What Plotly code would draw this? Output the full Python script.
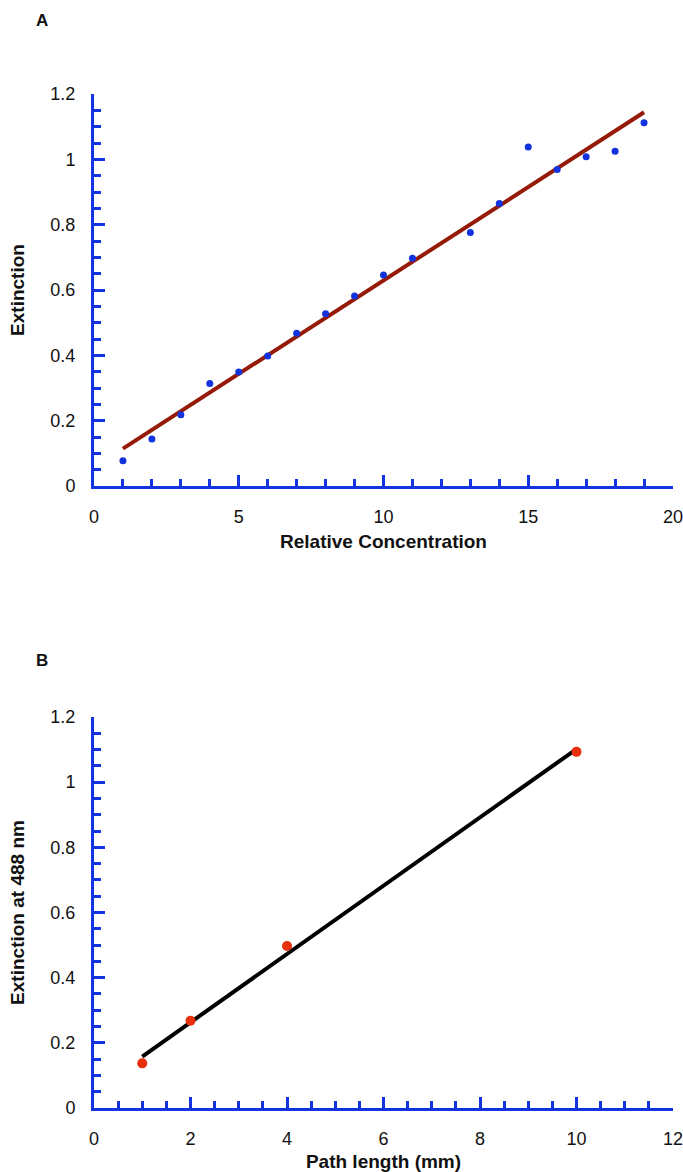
import numpy as np
import plotly.graph_objects as go

# Panel A data
conc = [1, 2, 3, 4, 5, 6, 7, 8, 9, 10, 11, 13, 14, 15, 16, 17, 18, 19]
ext_a = [0.077, 0.144, 0.218, 0.314, 0.349, 0.398, 0.468, 0.527, 0.582, 0.646,
         0.697, 0.776, 0.865, 1.038, 0.969, 1.008, 1.025, 1.112]

# Panel B data
path_mm = [1, 2, 4, 10]
ext_b = [0.137, 0.268, 0.497, 1.093]

xa_title = "Relative Concentration"
ya_title = "Extinction"
xb_title = "Path length (mm)"
yb_title = "Extinction at 488 nm"

# linear fits
pa = np.polyfit(conc, ext_a, 1)
fa_x = [min(conc), max(conc)]
fa_y = list(np.polyval(pa, fa_x))
pb = np.polyfit(path_mm, ext_b, 1)
fb_x = [min(path_mm), max(path_mm)]
fb_y = list(np.polyval(pb, fb_x))

AX = "#1433e0"
FONT = "Liberation Sans, Arial, Helvetica, sans-serif"

fig = go.Figure()
fig.add_trace(go.Scatter(x=fa_x, y=fa_y, mode="lines",
                         line=dict(color="#951a08", width=4), xaxis="x", yaxis="y", showlegend=False))
fig.add_trace(go.Scatter(x=conc, y=ext_a, mode="markers",
                         marker=dict(color="#1133dd", size=7), xaxis="x", yaxis="y", showlegend=False))
fig.add_trace(go.Scatter(x=fb_x, y=fb_y, mode="lines",
                         line=dict(color="#000000", width=4), xaxis="x2", yaxis="y2", showlegend=False))
fig.add_trace(go.Scatter(x=path_mm, y=ext_b, mode="markers",
                         marker=dict(color="#e8300c", size=10), xaxis="x2", yaxis="y2", showlegend=False))

def xaxis(rng, dtick, mdtick, title, anchor):
    return dict(range=rng, dtick=dtick, tick0=0, showgrid=False, zeroline=False,
                showline=True, linecolor=AX, linewidth=3,
                ticks="inside", ticklen=11, tickwidth=3, tickcolor=AX,
                minor=dict(dtick=mdtick, tick0=0, ticks="inside", ticklen=7, tickwidth=2.5, tickcolor=AX, showgrid=False),
                tickfont=dict(size=18, color="#111111", family=FONT),
                ticklabelstandoff=12, ticklabeloverflow="allow",
                title=dict(text=title, font=dict(size=19, color="#111111", family=FONT, weight="bold"), standoff=10),
                anchor=anchor, domain=[0, 1])

def yaxis(rng, domain, title, anchor):
    return dict(range=rng, dtick=0.2, tick0=0, showgrid=False, zeroline=False,
                showline=True, linecolor=AX, linewidth=3,
                ticks="inside", ticklen=11, tickwidth=3, tickcolor=AX,
                minor=dict(dtick=0.05, tick0=0, ticks="inside", ticklen=7, tickwidth=2.5, tickcolor=AX, showgrid=False),
                tickfont=dict(size=18, color="#111111", family=FONT),
                ticklabelstandoff=12, tickformat="~g", ticklabeloverflow="allow",
                title=dict(text=title, font=dict(size=19, color="#111111", family=FONT, weight="bold"), standoff=21),
                anchor=anchor, domain=domain)

FW, FH = 683, 1172
ML, MR, MT, MB = 94, 10, 94, 64
W = FW - ML - MR
H = FH - MT - MB

fig.update_layout(
    width=FW, height=FH,
    margin=dict(l=ML, r=MR, t=MT, b=MB, autoexpand=False),
    paper_bgcolor="white", plot_bgcolor="white",
    xaxis=xaxis([0, 20], 5, 1, xa_title, "y"),
    yaxis=yaxis([0, 1.2], [0.6134, 1.0], ya_title, "x"),
    xaxis2=xaxis([0, 12], 2, 0.5, xb_title, "y2"),
    yaxis2=yaxis([0, 1.2], [0.0, 0.3856], yb_title, "x2"),
    font=dict(family=FONT),
    annotations=[
        dict(text="<b>A</b>", x=(42 - ML) / W, y=(FH - MB - 20) / H, xref="paper", yref="paper",
             xanchor="center", yanchor="middle", showarrow=False,
             font=dict(size=17, color="#111111", family=FONT)),
        dict(text="<b>B</b>", x=(42 - ML) / W, y=(FH - MB - 660) / H, xref="paper", yref="paper",
             xanchor="center", yanchor="middle", showarrow=False,
             font=dict(size=17, color="#111111", family=FONT)),
    ],
)

fig.write_html(
    "out.html",
    config={"displayModeBar": False},
    post_script="document.body.style.margin='0';document.body.style.overflow='hidden';",
)
